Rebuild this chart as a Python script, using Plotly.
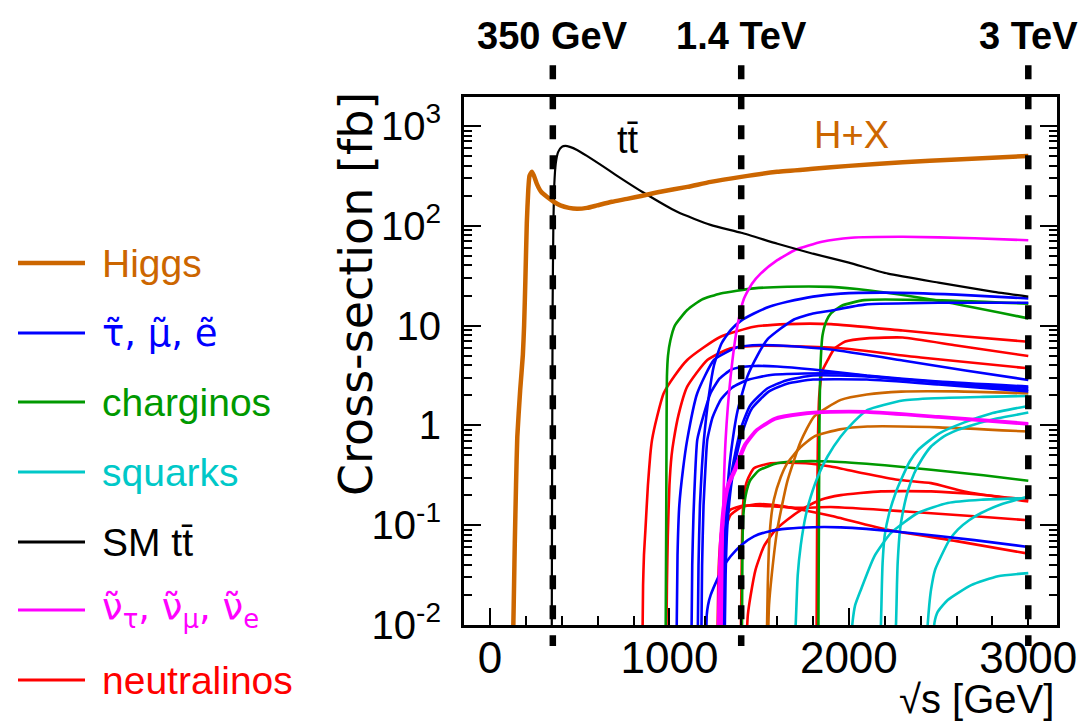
import plotly.graph_objects as go

# ---------------------------------------------------------------------------
# Canvas and plot-frame geometry (pixels)
W, H = 1092, 725
L, R, T, B = 464, 35, 97, 100

# ---------------------------------------------------------------------------
# Cross-sections: sqrt(s) in GeV, sigma in fb

# Higgs production (H + X)
higgs_e = [126, 130, 134, 138, 145, 152, 168, 183, 190, 197, 205, 213, 220, 233, 245, 261, 285, 317,
           355, 392, 440, 485, 540, 597, 680, 764, 850, 950, 1100, 1230, 1400, 1600, 1800, 2000,
           2300, 2600, 3000]
higgs_xs = [0.005, 0.01, 0.025, 0.0653, 0.251, 0.767, 2.24, 5.07, 10.0, 28.2, 106, 224, 316, 347, 316,
            263, 219, 195, 174, 160, 151, 148, 151, 160, 174, 186, 200, 219, 245, 275, 309, 347, 372,
            398, 432, 462, 501]

# Standard Model top pair production
ttbar_e = [344, 346, 349, 353, 358, 366, 380, 400, 420, 445, 485, 540, 626, 700, 857, 1043, 1229,
           1400, 1602, 1800, 2000, 2218, 2500, 2800, 3000]
ttbar_xs = [0.0063, 0.316, 15.8, 100, 251, 417, 550, 617, 631, 617, 575, 501, 398, 324, 214, 138, 102,
            85.1, 66.1, 52.5, 42.7, 33.1, 26.9, 21.9, 19.5]

# Heavy Higgs bosons
hh1_e = [1550, 1555, 1570, 1601, 1657, 1732, 1806, 1955, 2100, 2291, 2600, 3000]
hh1_xs = [0.0079, 0.0158, 0.0316, 0.0902, 0.275, 0.692, 1.225, 1.8, 2.04, 2.18, 2.19, 2.09]
hh2_e = [1543, 1548, 1554, 1565, 1582, 1620, 1657, 1730, 1806, 1950, 2104, 2500, 3000]
hh2_xs = [0.0079, 0.0251, 0.0569, 0.112, 0.18, 0.302, 0.419, 0.603, 0.773, 0.912, 0.973, 0.955, 0.867]

# Charged sleptons
slep1_e = [1158, 1162, 1170, 1180, 1192, 1220, 1248, 1290, 1341, 1400, 1471, 1560, 1657, 1800, 1955,
           2200, 2600, 3000]
slep1_xs = [0.0079, 0.0398, 0.158, 0.355, 0.716, 2.0, 3.98, 6.61, 9.02, 11.2, 13.2, 15.5, 17.3, 19.5,
            20.9, 21.4, 20.4, 18.7]
slep2_e = [1298, 1303, 1312, 1325, 1341, 1380, 1434, 1490, 1545, 1620, 1694, 1800, 1899, 2086, 2500, 3000]
slep2_xs = [0.0079, 0.0316, 0.1, 0.251, 0.501, 1.41, 3.08, 5.01, 7.24, 9.33, 11.5, 13.2, 14.1, 16.2,
            16.9, 16.9]
slep3_e = [1040, 1045, 1055, 1075, 1099, 1155, 1248, 1378, 1508, 1657, 1899, 2300, 2650, 3000]
slep3_xs = [0.0079, 0.0501, 0.158, 0.355, 0.716, 2.1, 4.52, 6.05, 6.38, 6.24, 5.75, 4.47, 3.55, 2.85]
slep4_e = [1123, 1127, 1134, 1143, 1155, 1190, 1229, 1280, 1341, 1400, 1471, 1600, 1800, 2100, 2500, 3000]
slep4_xs = [0.0079, 0.0398, 0.126, 0.316, 0.716, 1.26, 2.1, 2.95, 3.59, 3.85, 3.94, 3.89, 3.63, 3.16,
            2.75, 2.45]
slep5_e = [1178, 1182, 1190, 1200, 1211, 1240, 1285, 1350, 1434, 1564, 1750, 1955, 2300, 2700, 3000]
slep5_xs = [0.0079, 0.0398, 0.158, 0.355, 0.716, 1.2, 1.8, 2.4, 2.85, 3.2, 3.31, 3.31, 2.88, 2.57, 2.37]
slep6_e = [1300, 1305, 1315, 1340, 1370, 1400, 1450, 1545, 1650, 1800, 2100, 2500, 3000]
slep6_xs = [0.0079, 0.0316, 0.1, 0.282, 0.562, 0.955, 1.585, 2.34, 2.82, 3.16, 3.09, 2.69, 2.26]
slep7_e = [1308, 1313, 1323, 1348, 1378, 1410, 1460, 1555, 1660, 1800, 2100, 2500, 3000]
slep7_xs = [0.0079, 0.0316, 0.1, 0.282, 0.537, 0.891, 1.48, 2.19, 2.63, 2.88, 2.88, 2.57, 2.19]
slep8_e = [1205, 1208, 1215, 1230, 1266, 1300, 1341, 1400, 1471, 1560, 1657, 1800, 1955, 2300, 2700, 3000]
slep8_xs = [0.0079, 0.0126, 0.0158, 0.02, 0.0285, 0.038, 0.0488, 0.0631, 0.0773, 0.0871, 0.0923,
            0.0955, 0.0951, 0.0851, 0.0708, 0.0605]

# Charginos
char1_e = [979, 982, 984, 986, 992, 1005, 1030, 1099, 1180, 1285, 1471, 1657, 1900, 2104, 2477, 3000]
char1_xs = [0.0079, 0.1, 1.0, 3.08, 5.01, 7.08, 10.0, 14.3, 18.2, 21.0, 23.6, 24.5, 24.4, 22.6, 18.0, 11.8]
char2_e = [1830, 1833, 1836, 1842, 1853, 1875, 1899, 1960, 2086, 2458, 3000]
char2_xs = [0.0079, 0.1, 1.0, 3.98, 7.94, 11.2, 13.2, 15.8, 18.0, 18.0, 16.6]
char3_e = [1404, 1407, 1412, 1425, 1450, 1500, 1600, 1700, 1900, 2200, 2458, 2750, 3000]
char3_xs = [0.0079, 0.0631, 0.126, 0.2, 0.282, 0.355, 0.417, 0.435, 0.435, 0.398, 0.359, 0.316, 0.279]

# Squarks
sq1_e = [1700, 1704, 1715, 1732, 1760, 1788, 1830, 1881, 1955, 2030, 2104, 2300, 2477, 2750, 3000]
sq1_xs = [0.0079, 0.0105, 0.0316, 0.0631, 0.126, 0.194, 0.316, 0.488, 0.773, 1.096, 1.429, 1.778,
          1.871, 1.928, 1.972]
sq2_e = [2015, 2020, 2035, 2067, 2142, 2235, 2384, 2551, 2737, 3000]
sq2_xs = [0.0079, 0.0105, 0.0158, 0.0226, 0.0488, 0.0836, 0.1324, 0.167, 0.18, 0.187]
sq3_e = [2175, 2179, 2184, 2188, 2200, 2225, 2260, 2291, 2340, 2384, 2450, 2514, 2644, 2793, 3000]
sq3_xs = [0.0079, 0.0105, 0.0251, 0.0419, 0.0794, 0.1324, 0.209, 0.285, 0.437, 0.562, 0.708, 0.851,
          1.072, 1.318, 1.567]
sq4_e = [2258, 2263, 2268, 2272, 2285, 2300, 2330, 2365, 2410, 2458, 2530, 2607, 2700, 2800, 3000]
sq4_xs = [0.0079, 0.0105, 0.0251, 0.0419, 0.0891, 0.1324, 0.224, 0.333, 0.468, 0.614, 0.776, 0.902,
          1.023, 1.148, 1.343]
sq5_e = [2437, 2440, 2448, 2458, 2480, 2514, 2560, 2607, 2670, 2737, 2850, 3000]
sq5_xs = [0.0079, 0.0105, 0.0158, 0.0226, 0.0355, 0.0488, 0.0708, 0.0902, 0.112, 0.1324, 0.162, 0.194]
sq6_e = [2472, 2477, 2495, 2551, 2682, 2831, 3000]
sq6_xs = [0.0079, 0.0105, 0.0135, 0.0178, 0.0251, 0.0308, 0.0331]

# Sneutrinos
snu1_e = [1290, 1295, 1300, 1313, 1341, 1378, 1415, 1460, 1508, 1601, 1703, 1850, 2013, 2300, 2700, 3000]
snu1_xs = [0.0079, 0.0501, 0.158, 0.716, 3.08, 9.73, 18.6, 26.3, 33.1, 45.2, 57.5, 69.2, 75.9, 77.6,
           75.0, 71.6]
snu2_e = [1270, 1276, 1285, 1300, 1322, 1359, 1415, 1480, 1583, 1732, 1900, 2100, 2500, 3000]
snu2_xs = [0.0079, 0.0316, 0.0794, 0.158, 0.251, 0.355, 0.631, 0.891, 1.175, 1.318, 1.38, 1.38, 1.23, 1.052]
snu3_e = [1280, 1286, 1295, 1310, 1332, 1370, 1425, 1490, 1590, 1740, 1900, 2100, 2500, 3000]
snu3_xs = [0.0079, 0.0316, 0.0794, 0.158, 0.251, 0.355, 0.631, 0.891, 1.148, 1.288, 1.349, 1.349,
           1.202, 1.023]

# Neutralinos
neu1_e = [850, 853, 858, 866, 880, 893, 903, 930, 968, 1030, 1099, 1190, 1285, 1471, 1657, 1900, 2300,
          2650, 3000]
neu1_xs = [0.0079, 0.0251, 0.0501, 0.0891, 0.251, 0.501, 0.716, 1.2, 2.1, 3.16, 4.52, 6.03, 7.73, 9.73,
           10.35, 10.35, 8.91, 7.76, 6.89]
neu2_e = [983, 986, 991, 1000, 1012, 1024, 1050, 1099, 1211, 1341, 1471, 1657, 1955, 2400, 3000]
neu2_xs = [0.0079, 0.0251, 0.0794, 0.251, 0.501, 0.716, 1.26, 2.44, 4.52, 5.92, 6.24, 6.24, 5.92, 4.79, 3.73]
neu3_e = [1820, 1823, 1827, 1835, 1853, 1881, 1920, 1980, 2100, 2300, 2600, 3000]
neu3_xs = [0.0079, 0.1, 0.631, 2.0, 3.55, 4.47, 5.89, 6.92, 7.45, 7.59, 6.31, 4.95]
neu4_e = [1398, 1402, 1406, 1415, 1434, 1471, 1564, 1657, 1760, 1899, 2080, 2272, 2458, 2644, 3000]
neu4_xs = [0.0079, 0.0316, 0.1, 0.2, 0.282, 0.372, 0.417, 0.422, 0.417, 0.387, 0.331, 0.285, 0.264,
           0.218, 0.173]
neu5_e = [1268, 1272, 1278, 1290, 1310, 1341, 1415, 1583, 1732, 1899, 2300, 2700, 3000]
neu5_xs = [0.0079, 0.0251, 0.0501, 0.0891, 0.12, 0.143, 0.157, 0.154, 0.149, 0.152, 0.138, 0.123, 0.112]
neu6_e = [1432, 1437, 1452, 1480, 1527, 1590, 1657, 1750, 1844, 1955, 2179, 2458, 2737, 3000]
neu6_xs = [0.0089, 0.0126, 0.0195, 0.0359, 0.0617, 0.0891, 0.1135, 0.148, 0.18, 0.2, 0.218, 0.218,
           0.202, 0.18]
neu7_e = [1283, 1288, 1295, 1310, 1340, 1400, 1480, 1600, 1750, 1899, 2216, 2600, 3000]
neu7_xs = [0.0089, 0.0251, 0.0501, 0.0891, 0.126, 0.151, 0.162, 0.158, 0.141, 0.1245, 0.0902, 0.0692,
           0.0519]

# Collision energies of the staged machine
stage_e = [350, 1400, 3000]
stage_labels = ["350 GeV", "1.4 TeV", "3 TeV"]

# Axis ticks
x_ticks = [0, 1000, 2000, 3000]
x_minor = [200, 400, 600, 800, 1200, 1400, 1600, 1800, 2200, 2400, 2600, 2800]
y_ticks = [0.01, 0.1, 1, 10, 100, 1000]
y_ticklabels = ["10<sup>-2</sup>", "10<sup>-1</sup>", "1", "10", "10<sup>2</sup>", "10<sup>3</sup>"]
y_minor = [m * 10.0 ** k for k in range(-2, 3) for m in range(2, 10)] + [2000]

# Legend entries
legend_labels = ["Higgs", "τ\u0303, μ\u0303, e\u0303", "charginos", "squarks", "SM tt\u0304",
                 "ν\u0303<sub>τ</sub>, ν\u0303<sub>μ</sub>, ν\u0303<sub>e</sub>", "neutralinos"]

# ---------------------------------------------------------------------------
ORANGE = "#CC6600"
BLUE = "#0000FF"
GREEN = "#009900"
CYAN = "#00C8C8"
BLACK = "#000000"
MAGENTA = "#FF00FF"
RED = "#FF0000"
legend_colors = [ORANGE, BLUE, GREEN, CYAN, BLACK, MAGENTA, RED]

THIN = 2.6
curves = [
    (neu1_e, neu1_xs, RED, THIN), (neu2_e, neu2_xs, RED, THIN), (neu3_e, neu3_xs, RED, THIN),
    (neu4_e, neu4_xs, RED, THIN), (neu5_e, neu5_xs, RED, THIN), (neu6_e, neu6_xs, RED, THIN),
    (neu7_e, neu7_xs, RED, THIN),
    (char1_e, char1_xs, GREEN, THIN), (char2_e, char2_xs, GREEN, THIN), (char3_e, char3_xs, GREEN, THIN),
    (hh1_e, hh1_xs, ORANGE, THIN), (hh2_e, hh2_xs, ORANGE, THIN),
    (sq1_e, sq1_xs, CYAN, THIN), (sq2_e, sq2_xs, CYAN, THIN), (sq3_e, sq3_xs, CYAN, THIN),
    (sq4_e, sq4_xs, CYAN, THIN), (sq5_e, sq5_xs, CYAN, THIN), (sq6_e, sq6_xs, CYAN, THIN),
    (slep1_e, slep1_xs, BLUE, THIN), (slep2_e, slep2_xs, BLUE, THIN), (slep3_e, slep3_xs, BLUE, THIN),
    (slep4_e, slep4_xs, BLUE, THIN), (slep5_e, slep5_xs, BLUE, THIN), (slep6_e, slep6_xs, BLUE, THIN),
    (slep7_e, slep7_xs, BLUE, THIN), (slep8_e, slep8_xs, BLUE, THIN),
    (snu2_e, snu2_xs, MAGENTA, THIN), (snu3_e, snu3_xs, MAGENTA, THIN), (snu1_e, snu1_xs, MAGENTA, THIN),
    (ttbar_e, ttbar_xs, BLACK, 2.2),
    (higgs_e, higgs_xs, ORANGE, 4.5),
]

TICK_FONT = "Liberation Sans, Arial, sans-serif"
TEXT_FONT = "Liberation Sans, Arial, sans-serif"
GREEK_FONT = "DejaVu Sans, sans-serif"


def px_x(p):
    return (p - L) / (W - L - R)


def px_y(p):
    return (H - B - p) / (H - T - B)


fig = go.Figure()
for e, xs, col, w in curves:
    fig.add_trace(go.Scatter(x=e, y=xs, mode="lines",
                             line=dict(color=col, width=w, shape="spline", smoothing=0.5),
                             hoverinfo="skip", showlegend=False))

# Vertical dashed markers at the three energy stages
for e in stage_e:
    fig.add_shape(type="line", xref="x", yref="paper", x0=e, x1=e, y0=1.06, y1=-0.04,
                  line=dict(color="black", width=6.5, dash="14px,16px"), layer="above")

annotations = []
for e, lab in zip(stage_e, stage_labels):
    annotations.append(dict(x=e, y=px_y(36), xref="x", yref="paper", text=f"<b>{lab}</b>",
                            showarrow=False, xanchor="center", yanchor="middle",
                            font=dict(family=TEXT_FONT, size=38, color="black")))

# In-plot process labels
annotations.append(dict(x=px_x(628), y=px_y(140), xref="paper", yref="paper", text="tt\u0304",
                        showarrow=False, xanchor="center", yanchor="middle",
                        font=dict(family=TEXT_FONT, size=38, color="black")))
annotations.append(dict(x=px_x(851), y=px_y(135), xref="paper", yref="paper", text="H+X",
                        showarrow=False, xanchor="center", yanchor="middle",
                        font=dict(family=TEXT_FONT, size=38, color=ORANGE)))

# Axis titles
annotations.append(dict(x=px_x(356), y=px_y(294), xref="paper", yref="paper",
                        text="Cross-section [fb]", textangle=-90, showarrow=False,
                        xanchor="center", yanchor="middle",
                        font=dict(family="DejaVu Sans, sans-serif", size=46, color="black")))
annotations.append(dict(x=px_x(1056), y=px_y(699), xref="paper", yref="paper",
                        text="√s [GeV]", showarrow=False, xanchor="right", yanchor="middle",
                        font=dict(family=TEXT_FONT, size=40, color="black")))

# Legend drawn at the left of the frame
row_y = [263, 333, 402, 472, 542, 610, 680]
for i, (lab, col, ry) in enumerate(zip(legend_labels, legend_colors, row_y)):
    fig.add_shape(type="line", xref="paper", yref="paper", x0=px_x(18), x1=px_x(85),
                  y0=px_y(ry), y1=px_y(ry), line=dict(color=col, width=4.5 if i == 0 else 3))
    greek = i in (1, 5)
    annotations.append(dict(x=px_x(100), y=px_y(ry), xref="paper", yref="paper", text=lab,
                            showarrow=False, xanchor="left", yanchor="middle",
                            font=dict(family=GREEK_FONT if greek else TEXT_FONT,
                                      size=37 if greek else 39, color=col)))

fig.update_layout(
    width=W, height=H,
    margin=dict(l=L, r=R, t=T, b=B, pad=0),
    paper_bgcolor="white", plot_bgcolor="white",
    showlegend=False,
    annotations=annotations,
)

fig.update_xaxes(
    range=[-145, 3160], tickmode="array", tickvals=x_ticks,
    ticks="inside", ticklen=17, tickwidth=2, tickcolor="black",
    showline=True, linewidth=3, linecolor="black", mirror=True,
    showgrid=False, zeroline=False, ticklabelstandoff=-8,
    tickfont=dict(family=TICK_FONT, size=44, color="black"),
    minor=dict(tickmode="array", tickvals=x_minor, ticks="inside", ticklen=9, tickwidth=2,
               tickcolor="black", showgrid=False),
)
fig.update_yaxes(
    type="log", range=[-2, 3.29], tickmode="array", tickvals=y_ticks, ticktext=y_ticklabels,
    ticks="inside", ticklen=17, tickwidth=2, tickcolor="black",
    showline=True, linewidth=3, linecolor="black", mirror="ticks",
    showgrid=False, zeroline=False, ticklabelstandoff=12,
    tickfont=dict(family=TICK_FONT, size=40, color="black"),
    minor=dict(tickmode="array", tickvals=y_minor, ticks="inside", ticklen=8, tickwidth=2,
               tickcolor="black", showgrid=False),
)

fig.write_html("out.html")
